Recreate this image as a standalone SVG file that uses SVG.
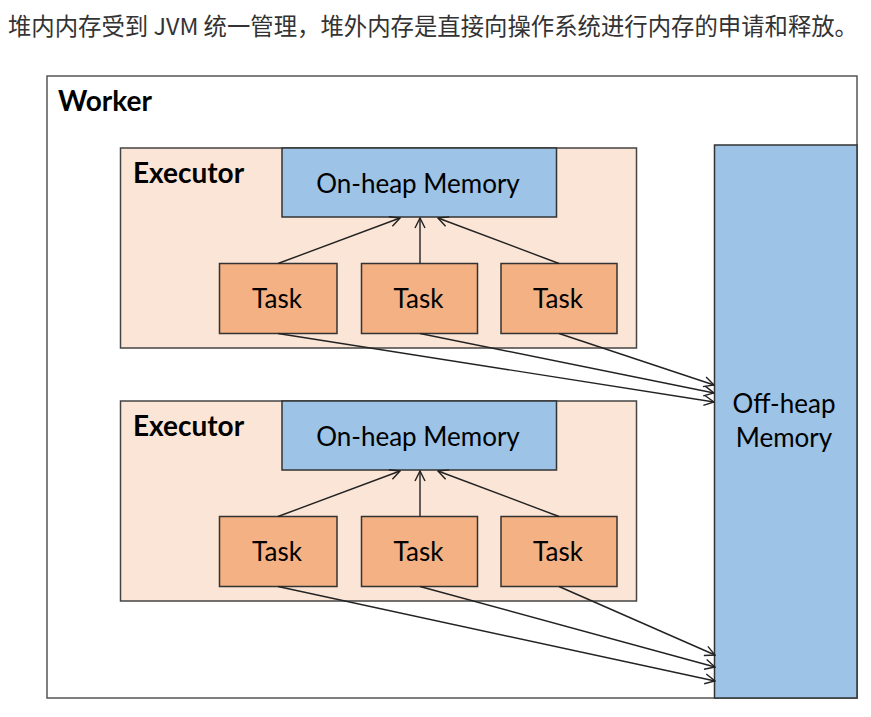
<svg xmlns="http://www.w3.org/2000/svg" width="871" height="717" viewBox="0 0 871 717">
<style>
.title{font-family:"Noto Sans CJK SC","Noto Sans",sans-serif;font-size:23.5px;fill:#333}
.lbl{font-family:Lato,"Liberation Sans",sans-serif;font-size:26px;fill:#000}
.bold{font-family:Lato,"Liberation Sans",sans-serif;font-size:28px;font-weight:bold;fill:#000}
.worker{fill:#fff;stroke:#555;stroke-width:1.5}
.exec{fill:#fbe5d6;stroke:#444;stroke-width:1.5}
.mem{fill:#9dc3e6;stroke:#333;stroke-width:1.5}
.task{fill:#f4b183;stroke:#333;stroke-width:1.5}
.conn line{stroke:#222;stroke-width:1.4;fill:none}
</style>
<defs>
<marker id="arr" viewBox="0 0 12 12" refX="11" refY="6" markerWidth="12" markerHeight="12" markerUnits="userSpaceOnUse" orient="auto">
<polyline points="1,1 11,6 1,11" fill="none" stroke="#222" stroke-width="1.4"/>
</marker>
</defs>
<rect width="871" height="717" fill="#fff"/>
<text class="title" x="8" y="35" textLength="850" lengthAdjust="spacingAndGlyphs">堆内内存受到 JVM 统一管理，堆外内存是直接向操作系统进行内存的申请和释放。</text>
<g id="worker">
<rect class="worker" x="47" y="76" width="810" height="622"/>
<text class="bold" x="58" y="111">Worker</text>
</g>
<g id="executor1">
<rect class="exec" x="120.5" y="148" width="516" height="200"/>
<text class="bold" x="133" y="183">Executor</text>
</g>
<g id="onheap1">
<rect class="mem" x="282" y="148" width="274.5" height="69"/>
<text class="lbl" x="418" y="193" text-anchor="middle">On-heap Memory</text>
</g>
<g id="task1a">
<rect class="task" x="219.5" y="263.5" width="117.5" height="70"/>
<text class="lbl" x="277" y="308" text-anchor="middle">Task</text>
</g>
<g id="task1b">
<rect class="task" x="361.5" y="263.5" width="116" height="70"/>
<text class="lbl" x="418.5" y="308" text-anchor="middle">Task</text>
</g>
<g id="task1c">
<rect class="task" x="501" y="263.5" width="116" height="70"/>
<text class="lbl" x="558" y="308" text-anchor="middle">Task</text>
</g>
<g id="executor2">
<rect class="exec" x="120.5" y="401" width="516" height="200"/>
<text class="bold" x="133" y="436">Executor</text>
</g>
<g id="onheap2">
<rect class="mem" x="282" y="401" width="274.5" height="69"/>
<text class="lbl" x="418" y="446" text-anchor="middle">On-heap Memory</text>
</g>
<g id="task2a">
<rect class="task" x="219.5" y="516.5" width="117.5" height="70"/>
<text class="lbl" x="277" y="561" text-anchor="middle">Task</text>
</g>
<g id="task2b">
<rect class="task" x="361.5" y="516.5" width="116" height="70"/>
<text class="lbl" x="418.5" y="561" text-anchor="middle">Task</text>
</g>
<g id="task2c">
<rect class="task" x="501" y="516.5" width="116" height="70"/>
<text class="lbl" x="558" y="561" text-anchor="middle">Task</text>
</g>
<g id="offheap">
<rect class="mem" x="714.5" y="145" width="142.5" height="553"/>
<text class="lbl" x="784" y="413" text-anchor="middle">Off-heap</text>
<text class="lbl" x="784" y="447" text-anchor="middle">Memory</text>
</g>
<g class="conn" id="connectors">
<line x1="278" y1="263.5" x2="400" y2="218" marker-end="url(#arr)"/>
<line x1="420" y1="263.5" x2="420" y2="218" marker-end="url(#arr)"/>
<line x1="559" y1="263.5" x2="438" y2="218" marker-end="url(#arr)"/>
<line x1="278" y1="516.5" x2="400" y2="471" marker-end="url(#arr)"/>
<line x1="420" y1="516.5" x2="420" y2="471" marker-end="url(#arr)"/>
<line x1="559" y1="516.5" x2="438" y2="471" marker-end="url(#arr)"/>
<line x1="278" y1="333.5" x2="714" y2="402" marker-end="url(#arr)"/>
<line x1="420" y1="333.5" x2="714" y2="393" marker-end="url(#arr)"/>
<line x1="559" y1="333.5" x2="714" y2="385" marker-end="url(#arr)"/>
<line x1="278" y1="586.5" x2="715" y2="681" marker-end="url(#arr)"/>
<line x1="420" y1="586.5" x2="715" y2="667" marker-end="url(#arr)"/>
<line x1="559" y1="586.5" x2="715" y2="655" marker-end="url(#arr)"/>
</g>
</svg>
